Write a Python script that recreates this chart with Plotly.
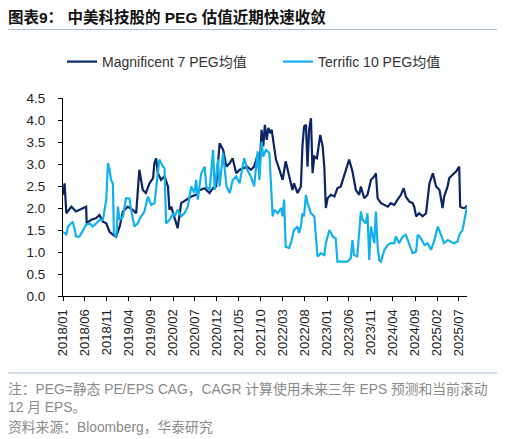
import plotly.graph_objects as go

# ---------------- data ----------------
m7_dates = [
    "2018-01-01", "2018-01-12", "2018-01-24", "2018-02-28", "2018-04-01", "2018-04-25", "2018-05-28",
    "2018-06-10", "2018-06-14", "2018-07-13", "2018-08-19", "2018-09-10", "2018-10-04", "2018-10-27",
    "2018-11-19", "2018-12-13", "2019-01-04", "2019-01-28", "2019-02-19", "2019-03-25", "2019-04-28",
    "2019-05-22", "2019-06-13", "2019-07-07", "2019-07-28", "2019-08-22", "2019-09-16", "2019-09-25",
    "2019-10-07", "2019-10-19", "2019-11-10", "2019-12-04", "2019-12-28", "2020-01-07", "2020-01-19",
    "2020-02-13", "2020-03-04", "2020-03-28", "2020-05-01", "2020-06-07", "2020-07-10", "2020-08-04",
    "2020-09-07", "2020-10-10", "2020-11-04", "2020-11-25", "2020-12-19", "2021-01-13", "2021-02-04",
    "2021-02-28", "2021-03-19", "2021-04-13", "2021-05-07", "2021-06-28", "2021-07-23", "2021-08-15",
    "2021-09-08", "2021-09-20", "2021-10-05", "2021-10-17", "2021-10-28", "2021-11-10", "2021-11-21",
    "2021-12-03", "2021-12-14", "2021-12-25", "2022-01-02", "2022-01-13", "2022-02-06", "2022-02-28",
    "2022-03-21", "2022-04-14", "2022-05-07", "2022-05-18", "2022-06-11", "2022-07-04", "2022-07-15",
    "2022-07-26", "2022-08-08", "2022-08-19", "2022-08-30", "2022-09-12", "2022-09-23", "2022-10-05",
    "2022-10-23", "2022-11-15", "2022-12-02", "2022-12-13", "2022-12-24", "2023-01-05", "2023-01-28",
    "2023-02-21", "2023-03-14", "2023-04-06", "2023-04-28", "2023-05-22", "2023-06-03", "2023-06-26",
    "2023-07-19", "2023-08-12", "2023-08-23", "2023-09-15", "2023-10-08", "2023-11-01", "2023-11-24",
    "2023-12-05", "2023-12-17", "2024-01-09", "2024-02-02", "2024-02-25", "2024-03-17", "2024-04-10",
    "2024-05-03", "2024-05-26", "2024-06-14", "2024-06-29", "2024-07-22", "2024-08-15", "2024-08-26",
    "2024-09-08", "2024-09-29", "2024-10-23", "2024-11-16", "2024-12-09", "2025-01-02", "2025-01-24",
    "2025-02-17", "2025-03-10", "2025-03-21", "2025-04-14", "2025-04-25", "2025-05-18", "2025-06-11",
    "2025-07-03", "2025-07-10", "2025-07-26", "2025-08-10", "2025-08-26",
]
m7_values = [
    2.30, 2.56, 1.88, 2.03, 1.92, 1.96, 2.00,
    2.03, 1.65, 1.73, 1.77, 1.84, 1.69, 1.65,
    1.46, 1.39, 1.35, 1.58, 1.92, 2.03, 1.96,
    1.88, 2.87, 2.41, 2.34, 2.56, 2.68, 3.02,
    3.13, 2.79, 2.64, 2.72, 2.49, 1.96, 2.03,
    1.77, 1.54, 2.11, 2.19, 2.26, 2.30, 2.41,
    2.45, 2.34, 2.45, 2.49, 3.47, 3.32, 2.94,
    3.02, 3.13, 2.79, 2.87, 2.94, 2.87, 2.94,
    3.21, 2.79, 3.78, 3.40, 3.89, 3.55, 3.82,
    3.70, 3.78, 3.55, 3.32, 3.10, 2.87, 2.64,
    3.06, 2.72, 2.41, 2.56, 2.34, 2.49, 3.40,
    3.85, 3.89, 2.94, 3.78, 4.04, 2.79, 3.17,
    3.13, 3.66, 3.40, 2.94, 2.00, 2.22, 2.30,
    2.26, 2.45, 2.49, 2.72, 3.02, 3.10, 2.83,
    2.41, 2.30, 2.49, 2.22, 2.30, 2.64, 2.72,
    2.79, 2.22, 2.11, 2.07, 2.03, 2.11, 2.07,
    2.19, 2.30, 2.45, 2.26, 2.15, 2.11, 2.03,
    1.81, 1.88, 1.81, 1.88, 2.56, 2.79, 2.49,
    2.41, 2.00, 2.26, 2.49, 2.68, 2.75, 2.83,
    2.94, 2.03, 2.00, 2.00, 2.05,
]

t10_dates = [
    "2018-01-01", "2018-01-24", "2018-02-05", "2018-02-28", "2018-03-09", "2018-03-21", "2018-04-02",
    "2018-04-25", "2018-05-18", "2018-06-10", "2018-07-03", "2018-07-26", "2018-08-18", "2018-09-11",
    "2018-10-04", "2018-10-27", "2018-11-08", "2018-11-19", "2018-11-29", "2018-12-12", "2018-12-19",
    "2019-01-05", "2019-01-16", "2019-01-27", "2019-02-20", "2019-03-13", "2019-04-05", "2019-04-17",
    "2019-05-10", "2019-06-02", "2019-06-25", "2019-07-18", "2019-08-11", "2019-09-03", "2019-09-26",
    "2019-10-07", "2019-10-29", "2019-11-23", "2019-12-04", "2019-12-15", "2020-01-08", "2020-02-01",
    "2020-02-12", "2020-03-05", "2020-03-28", "2020-04-20", "2020-05-13", "2020-06-06", "2020-06-28",
    "2020-07-10", "2020-07-21", "2020-08-14", "2020-09-07", "2020-09-18", "2020-10-11", "2020-11-04",
    "2020-11-15", "2020-12-08", "2020-12-19", "2021-01-12", "2021-02-05", "2021-02-27", "2021-03-20",
    "2021-04-13", "2021-05-06", "2021-06-07", "2021-06-28", "2021-07-23", "2021-08-15", "2021-09-08",
    "2021-09-20", "2021-10-05", "2021-10-17", "2021-11-05", "2021-11-28", "2021-12-21", "2022-01-02",
    "2022-01-25", "2022-02-17", "2022-02-28", "2022-03-10", "2022-03-21", "2022-04-14", "2022-04-26",
    "2022-05-18", "2022-06-11", "2022-06-22", "2022-07-04", "2022-07-15", "2022-07-26", "2022-08-08",
    "2022-08-19", "2022-09-12", "2022-10-05", "2022-10-16", "2022-10-27", "2022-11-20", "2022-12-13",
    "2022-12-24", "2023-01-17", "2023-02-10", "2023-03-02", "2023-03-14", "2023-04-06", "2023-05-22",
    "2023-06-14", "2023-06-26", "2023-07-07", "2023-07-29", "2023-08-23", "2023-09-04", "2023-09-27",
    "2023-10-08", "2023-10-20", "2023-11-01", "2023-11-24", "2023-12-05", "2023-12-17", "2023-12-28",
    "2024-01-09", "2024-02-02", "2024-02-25", "2024-03-17", "2024-04-10", "2024-04-21", "2024-05-14",
    "2024-06-07", "2024-06-29", "2024-07-22", "2024-08-15", "2024-09-08", "2024-09-19", "2024-10-12",
    "2024-11-05", "2024-11-27", "2024-12-20", "2025-01-13", "2025-02-05", "2025-02-27", "2025-03-21",
    "2025-04-14", "2025-05-06", "2025-05-29", "2025-06-22", "2025-07-03", "2025-07-26", "2025-08-15",
    "2025-08-26",
]
t10_values = [
    1.46, 1.40, 1.58, 1.65, 1.69, 1.54, 1.35,
    1.35, 1.50, 1.62, 1.65, 1.58, 1.65, 1.73,
    1.73, 2.19, 3.02, 2.87, 2.64, 2.56, 1.43,
    1.35, 2.03, 1.73, 1.81, 2.22, 2.22, 1.96,
    1.58, 1.65, 1.81, 1.92, 2.26, 2.07, 2.11,
    2.41, 3.10, 2.94, 2.91, 1.65, 1.73, 1.88,
    1.81, 1.96, 1.81, 1.88, 2.03, 2.49, 2.34,
    2.64, 2.19, 2.79, 2.94, 2.49, 2.41, 3.32,
    2.41, 3.10, 2.49, 3.25, 2.49, 2.34, 2.64,
    2.72, 2.56, 3.13, 2.87, 2.72, 2.49, 3.29,
    2.64, 3.51, 3.17, 3.32, 3.25, 1.81, 1.96,
    1.88, 2.00, 1.81, 2.19, 1.12, 1.09, 1.20,
    1.50, 1.58, 1.43, 1.58, 1.88, 1.81, 2.30,
    2.11, 1.88, 1.81, 1.35, 0.90, 0.97, 0.93,
    1.20, 1.50, 1.35, 1.31, 0.78, 0.78, 0.78,
    0.86, 1.27, 0.93, 0.90, 1.92, 1.73, 1.65,
    1.88, 0.82, 1.58, 1.20, 1.92, 1.12, 0.82,
    0.78, 1.05, 1.16, 1.20, 1.20, 1.35, 1.20,
    1.35, 1.39, 1.20, 0.97, 1.01, 1.39, 1.31,
    1.16, 1.20, 1.05, 1.27, 1.58, 1.39, 1.20,
    1.27, 1.24, 1.20, 1.24, 1.39, 1.50, 1.81,
    2.03,
]

tick_dates = [
    "2018-01-01", "2018-06-01", "2018-11-01", "2019-04-01", "2019-09-01", "2020-02-01",
    "2020-07-01", "2020-12-01", "2021-05-01", "2021-10-01", "2022-03-01", "2022-08-01",
    "2023-01-01", "2023-06-01", "2023-11-01", "2024-04-01", "2024-09-01", "2025-02-01",
    "2025-07-01",
]
tick_labels = [
    "2018/01", "2018/06", "2018/11", "2019/04", "2019/09", "2020/02", "2020/07", "2020/12",
    "2021/05", "2021/10", "2022/03", "2022/08", "2023/01", "2023/06", "2023/11", "2024/04",
    "2024/09", "2025/02", "2025/07",
]
y_ticks = [0.0, 0.5, 1.0, 1.5, 2.0, 2.5, 3.0, 3.5, 4.0, 4.5]

series_names = ["Magnificent 7 PEG均值", "Terrific 10 PEG均值"]
title_text = "图表9： 中美科技股的 PEG 估值近期快速收敛"
note_lines = [
    "注：PEG=静态 PE/EPS CAG，CAGR 计算使用未来三年 EPS 预测和当前滚动",
    "12 月 EPS。",
    "资料来源：Bloomberg，华泰研究",
]

# ---------------- layout geometry (pixels in the 505x439 window) ----------------
# the page body has an 8px default margin, so the figure is drawn 8px smaller
OFF = 8
W, H = 505 - OFF, 439 - OFF
PL, PR, PT, PB = 63 - OFF, 467 - OFF, 98 - OFF, 296 - OFF


def px_x(x):
    return (x - OFF - PL) / (PR - PL)


def px_y(y):
    return (PB - (y - OFF)) / (PB - PT)


FONT = "Liberation Sans, Arial, Noto Sans CJK SC, sans-serif"
DARK = "#0B2466"
LIGHT = "#12B0EE"

fig = go.Figure()
fig.add_trace(go.Scatter(x=m7_dates, y=m7_values, mode="lines", name=series_names[0],
                         line=dict(color=DARK, width=2.2)))
fig.add_trace(go.Scatter(x=t10_dates, y=t10_values, mode="lines", name=series_names[1],
                         line=dict(color=LIGHT, width=2.2)))

fig.update_layout(
    width=W, height=H,
    margin=dict(l=PL, r=W - PR, t=PT, b=H - PB, pad=0, autoexpand=False),
    paper_bgcolor="white", plot_bgcolor="white",
    font=dict(family=FONT, size=13, color="#222222"),
    showlegend=True,
    legend=dict(orientation="h", x=px_x(62), y=px_y(62), xanchor="left", yanchor="middle",
                font=dict(size=14, color="#333333"), entrywidth=171, entrywidthmode="pixels",
                bgcolor="rgba(0,0,0,0)", itemwidth=30),
    xaxis=dict(type="date", range=["2018-01-01", "2025-08-26"], tickmode="array",
               tickvals=tick_dates, ticktext=tick_labels, tickangle=-90,
               showline=True, linecolor="#000000", linewidth=1, ticks="outside",
               ticklen=4, tickcolor="#000000", showgrid=False, zeroline=False,
               ticklabelstandoff=3, tickfont=dict(size=13, color="#222222")),
    yaxis=dict(range=[0, 4.5], tickmode="array", tickvals=y_ticks,
               ticktext=[f"{v:.1f}" for v in y_ticks],
               showline=True, linecolor="#000000", linewidth=1, ticks="outside",
               ticklen=4, tickcolor="#000000", showgrid=False, zeroline=False,
               ticklabelstandoff=10, tickfont=dict(size=13.5, color="#222222")),
)

# title and separators
fig.add_annotation(text="<b>" + title_text + "</b>", xref="paper", yref="paper",
                   x=px_x(6), y=px_y(17), xanchor="left", yanchor="middle", showarrow=False,
                   font=dict(size=15.5, color="#111111", family=FONT))
fig.add_shape(type="line", xref="paper", yref="paper", x0=px_x(5), x1=px_x(500),
              y0=px_y(29.5), y1=px_y(29.5), line=dict(color="#A9BCD3", width=1.2))
fig.add_shape(type="line", xref="paper", yref="paper", x0=px_x(5), x1=px_x(500),
              y0=px_y(373), y1=px_y(373), line=dict(color="#A9BCD3", width=1.2))

for txt, yy in zip(note_lines, [389, 407, 427]):
    fig.add_annotation(text=txt, xref="paper", yref="paper", x=px_x(6), y=px_y(yy),
                       xanchor="left", yanchor="middle", showarrow=False,
                       font=dict(size=13.8, color="#8A8A8A", family=FONT))

fig.write_html("out.html")
